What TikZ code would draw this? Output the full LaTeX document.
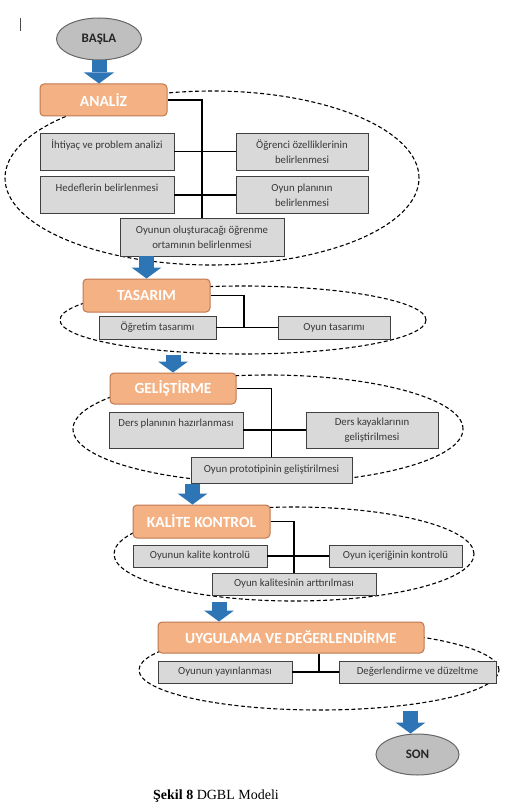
\documentclass[tikz,border=0pt]{standalone}
\usepackage{fontspec}
\setmainfont{Carlito}
\newfontfamily\captionfont{Liberation Serif}
\usetikzlibrary{positioning,calc,shapes.geometric,arrows.meta}
\definecolor{headcolor}{RGB}{244,177,131}
\definecolor{headborder}{RGB}{190,120,80}
\definecolor{boxcolor}{RGB}{217,217,217}
\definecolor{arrowcolor}{RGB}{46,117,182}
\definecolor{termcolor}{RGB}{191,191,191}

\begin{document}
\begin{tikzpicture}[
    x=1pt, y=-1pt,
    phase/.style={rectangle, draw=headborder, line width=1pt, fill=headcolor, rounded corners=4pt, minimum height=32pt, inner sep=2pt, text=white, font=\fontsize{15.5}{18}\selectfont\bfseries},
    task/.style={rectangle, draw=black!75, line width=0.9pt, fill=boxcolor, minimum height=22pt, inner sep=1pt, align=center, text=black!78, font=\fontsize{10.8}{15}\selectfont},
    terminal/.style={ellipse, draw=black!60, line width=1pt, fill=termcolor, minimum width=85pt, minimum height=42pt, font=\fontsize{13}{15}\selectfont\bfseries, text=black!85},
    group/.style={ellipse, draw, dash pattern=on 4pt off 2.5pt, line width=1.1pt, inner sep=0pt},
    link/.style={line width=1.2pt},
    flow/.style={line width=15pt, draw=arrowcolor, -{Triangle[length=11pt, width=30pt, line width=0pt]}}
]
\useasboundingbox (0,0) rectangle (509,805);

% Dashed groups (drawn first, the boxes cover them)
\node[group, minimum width=414pt, minimum height=174pt] (analizgroup) at (212,178) {};
\node[group, minimum width=366pt, minimum height=68pt] (tasarimgroup) at (243,320) {};
\node[group, minimum width=390pt, minimum height=108pt] (gelistirmegroup) at (268,429) {};
\node[group, minimum width=360pt, minimum height=94pt] (kalitegroup) at (294,554) {};
\node[group, minimum width=360pt, minimum height=80pt] (uygulamagroup) at (319,670) {};

% Start
\draw[line width=1pt, black!70] (20,18) -- (20,31);
\node[terminal] (basla) at (99,39) {BAŞLA};

% Analiz
\node[phase, minimum width=127pt] (analiz) at (103.5,100) {ANALİZ};
\node[task, minimum width=134pt, minimum height=37pt] (ihtiyac) at (107,151.5) {İhtiyaç ve problem analizi\\~};
\node[task, minimum width=132pt, minimum height=37pt] (ogrenci) at (302,151.5) {Öğrenci özelliklerinin\\belirlenmesi};
\node[task, minimum width=134pt, minimum height=37pt] (hedef) at (107,195) {Hedeflerin belirlenmesi\\~};
\node[task, minimum width=132pt, minimum height=37pt] (plan) at (302,195) {Oyun planının\\belirlenmesi};
\node[task, minimum width=164pt, minimum height=38pt] (ortam) at (202,237) {Oyunun oluşturacağı öğrenme\\ortamının belirlenmesi};

\draw[link] (analiz.east) -| (ortam.north);
\draw[link] (ihtiyac) -- (ogrenci);
\draw[link] (hedef) -- (plan);

% Tasarim
\node[phase, minimum width=127pt, minimum height=33pt] (tasarim) at (146.5,295.5) {TASARIM};
\node[task, minimum width=117pt, minimum height=23pt] (ogretim) at (157.5,327.5) {Öğretim tasarımı};
\node[task, minimum width=112pt, minimum height=23pt] (oyuntas) at (334,327.5) {Oyun tasarımı};
\coordinate (tasarimjoin) at (244,327.5);

\draw[link] (tasarim.east) -| (tasarimjoin);
\draw[link] (ogretim) -- (oyuntas);

% Gelistirme
\node[phase, minimum width=126pt, minimum height=31pt] (gelistirme) at (173,388.5) {GELİŞTİRME};
\node[task, minimum width=134pt, minimum height=36pt] (dersplan) at (176,430) {Ders planının hazırlanması\\~};
\node[task, minimum width=132pt, minimum height=36pt] (kaynak) at (372,430) {Ders kayaklarının\\geliştirilmesi};
\node[task, minimum width=161pt, minimum height=26pt] (prototip) at (271.5,470) {Oyun prototipinin geliştirilmesi};

\draw[link] (gelistirme.east) -| (prototip.north);
\draw[link] (dersplan) -- (kaynak);

% Kalite kontrol
\node[phase, minimum width=137pt, minimum height=33pt] (kalite) at (201.5,521.5) {KALİTE KONTROL};
\node[task, minimum width=134pt] (kalkontrol) at (200,556) {Oyunun kalite kontrolü};
\node[task, minimum width=133pt] (icerik) at (395.5,556) {Oyun içeriğinin kontrolü};
\node[task, minimum width=164pt] (arttir) at (294,584) {Oyun kalitesinin arttırılması};

\draw[link] (kalite.east) -| (arttir.north);
\draw[link] (kalkontrol) -- (icerik);

% Uygulama ve degerlendirme
\node[phase, minimum width=266pt, minimum height=31pt] (uygulama) at (291,637.5) {UYGULAMA VE DEĞERLENDİRME};
\node[task, minimum width=134pt] (yayin) at (225,672) {Oyunun yayınlanması};
\node[task, minimum width=157pt] (degerlendirme) at (417.5,672) {Değerlendirme ve düzeltme};
\coordinate (uygulamajoin) at (319,672);

\draw[link] (uygulama.south -| uygulamajoin) -- (uygulamajoin);
\draw[link] (yayin) -- (degerlendirme);

% End
\node[terminal, minimum width=83pt, minimum height=41pt] (son) at (417.5,754.5) {SON};

% Flow arrows
\coordinate (kalitein) at ([xshift=-9pt]kalite.north);
\coordinate (uygulamain) at ([xshift=-72pt]uygulama.north);
\coordinate (sonin) at ([xshift=-7pt]son.north);
\draw[flow] (basla.south) -- (basla.south |- analiz.north);
\draw[flow] (tasarim.north |- ortam.south) -- (tasarim.north);
\draw[flow] (gelistirme.north |- tasarimgroup.south) -- (gelistirme.north);
\draw[flow] (kalitein |- gelistirmegroup.south) -- (kalitein);
\draw[flow] (uygulamain |- kalitegroup.south) -- (uygulamain);
\draw[flow] (sonin |- uygulamagroup.south) -- (sonin);

% Caption
\node[anchor=north west, inner sep=0pt, font=\captionfont\fontsize{14}{16}\selectfont] (caption) at (153,790) {\textbf{Şekil 8} DGBL Modeli};

\end{tikzpicture}
\end{document}
